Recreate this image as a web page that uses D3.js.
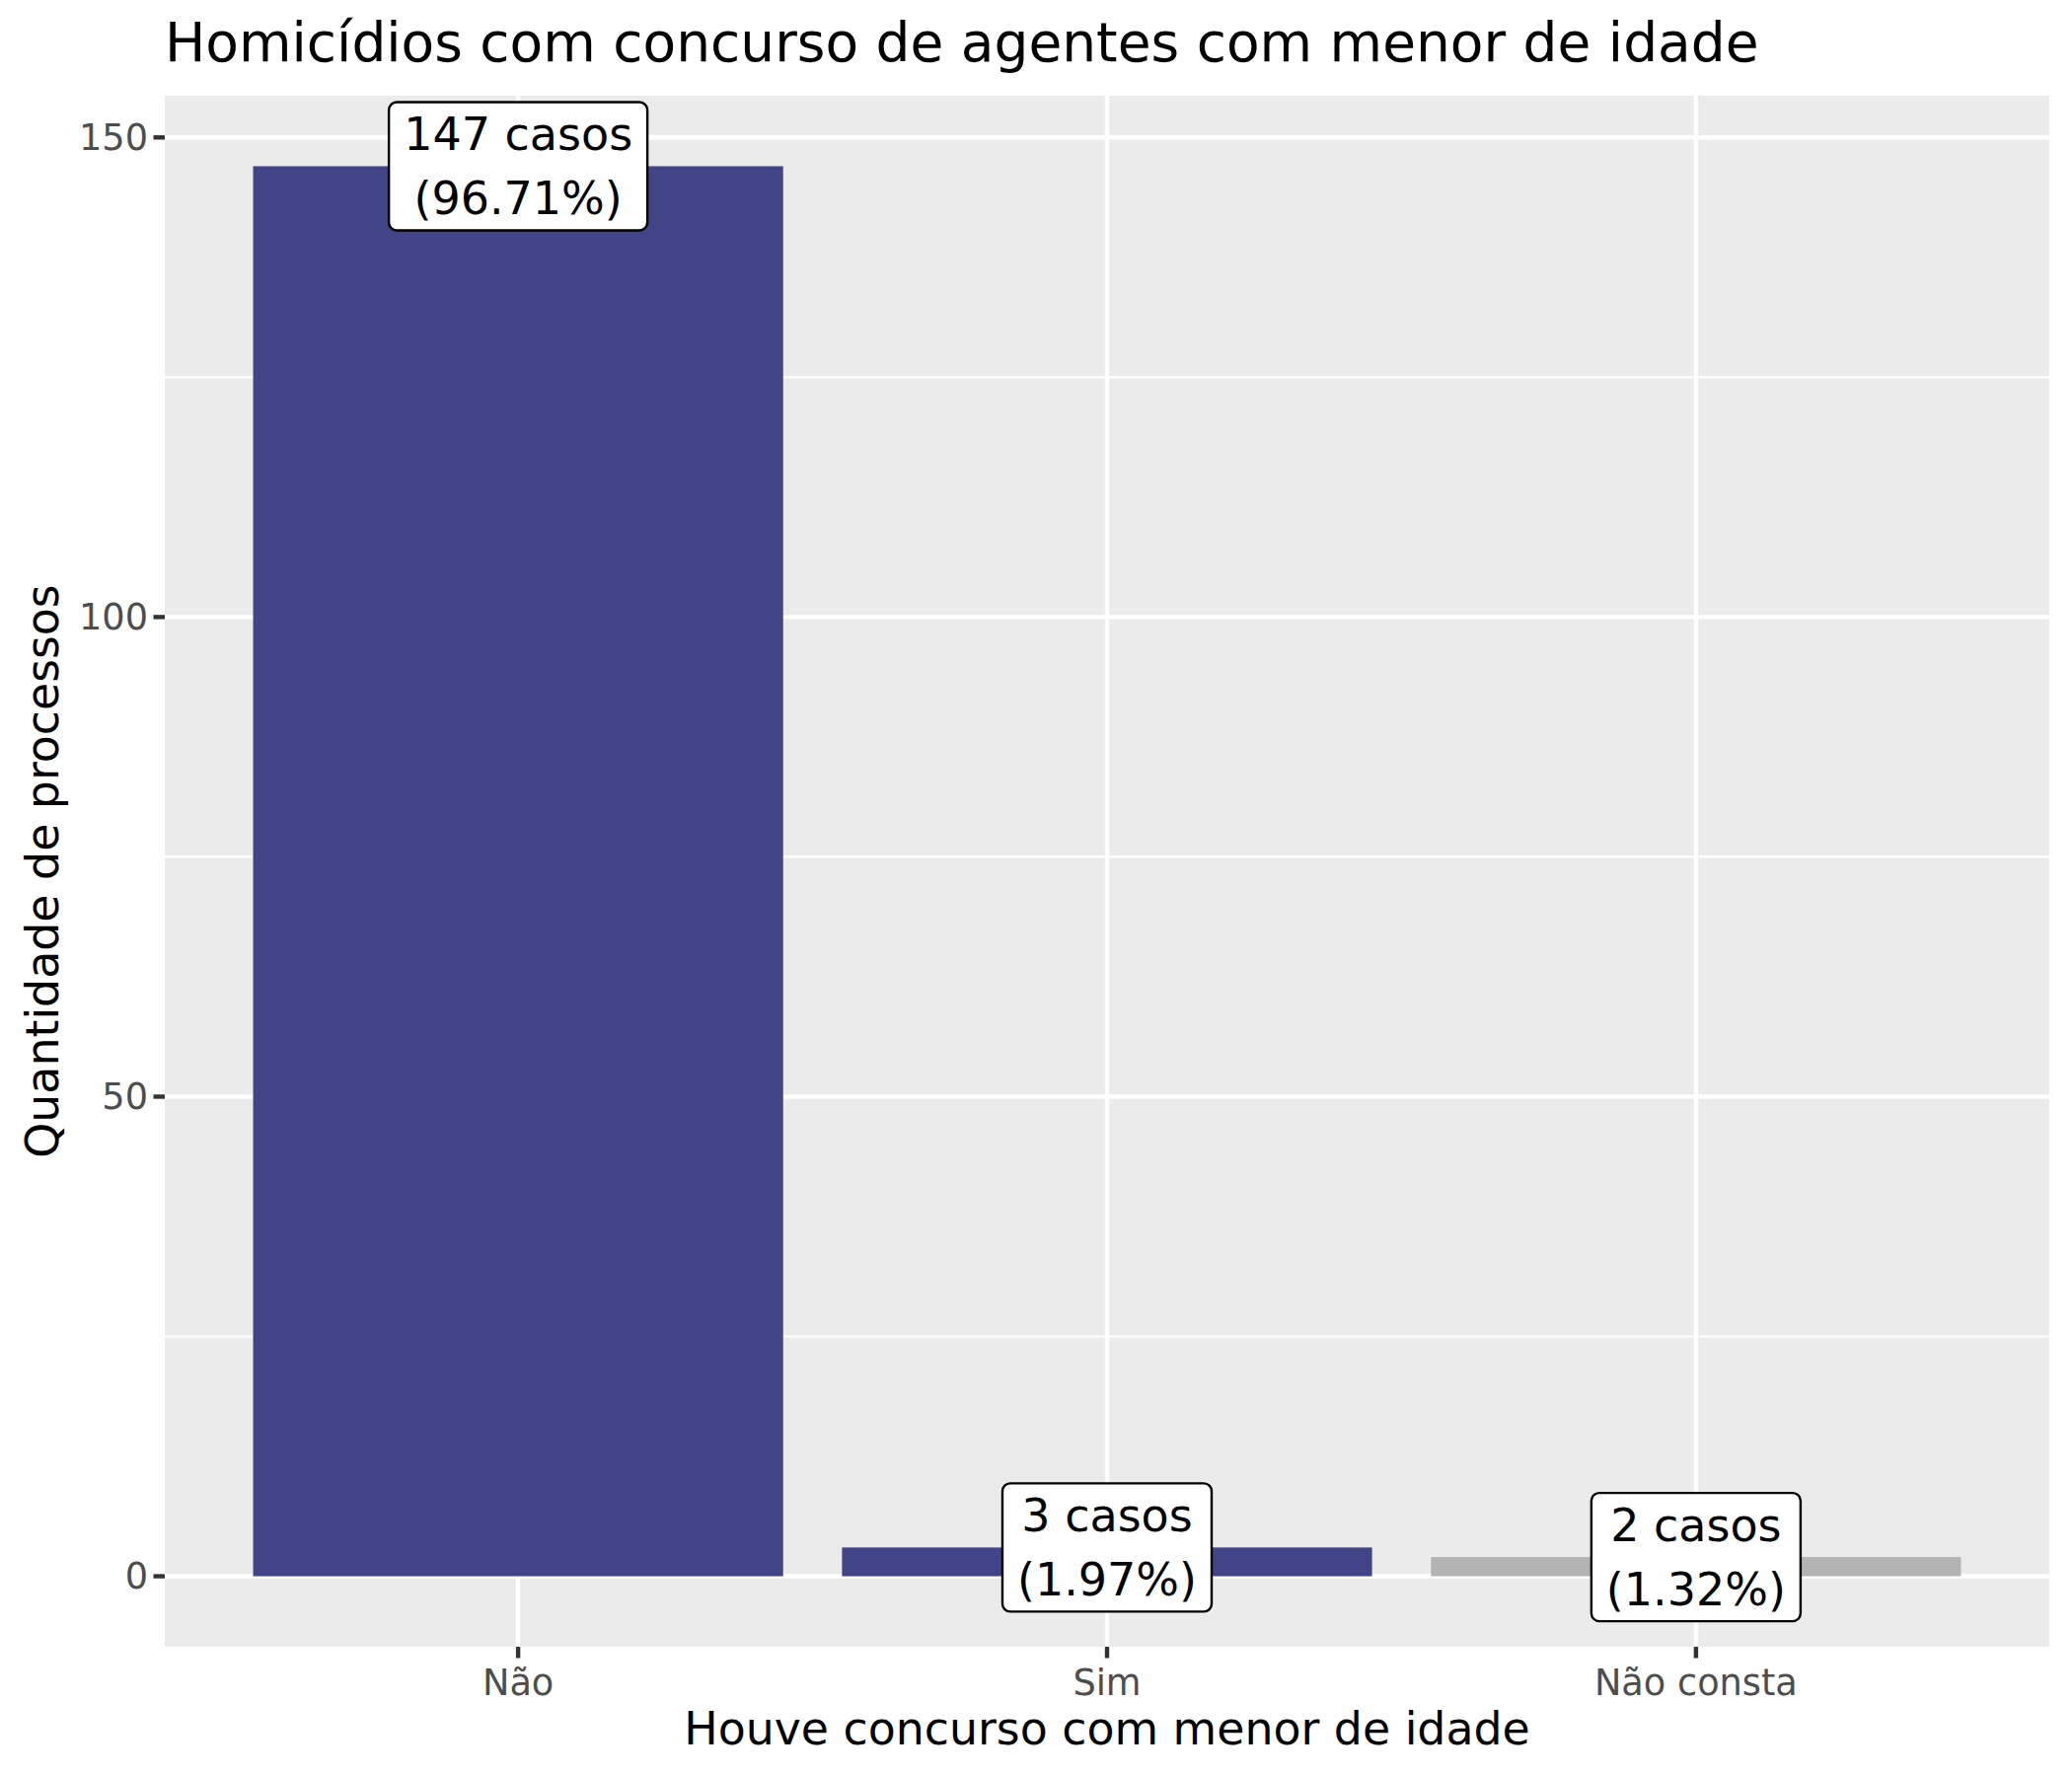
<!DOCTYPE html>
<html><head><meta charset="utf-8">
<script src="https://cdn.jsdelivr.net/npm/d3@7"></script>
<style>body{margin:0;background:#fff}text{font-family:"DejaVu Sans",sans-serif}</style>
</head><body>
<svg id="c" width="2100" height="1800"></svg>
<script>
const categories = ["Não", "Sim", "Não consta"];
const values = [147, 3, 2];
const labelLine1 = ["147 casos", "3 casos", "2 casos"];
const labelLine2 = ["(96.71%)", "(1.97%)", "(1.32%)"];
const barColors = ["#414487", "#414487", "#B3B3B3"];
const yTicks = [0, 50, 100, 150];
const yMinor = [25, 75, 125];
const title = "Homicídios com concurso de agentes com menor de idade";
const xTitle = "Houve concurso com menor de idade";
const yTitle = "Quantidade de processos";

const svg = d3.select("#c");
const P = {l: 167, r: 2077, t: 97, b: 1669};

const x = d3.scaleLinear().domain([0.4, 3.6]).range([P.l, P.r]);
const y = d3.scaleLinear().domain([-7.35, 154.35]).range([P.b, P.t]);

svg.append("rect").attr("x", P.l).attr("y", P.t).attr("width", P.r - P.l).attr("height", P.b - P.t).attr("fill", "#EBEBEB");

// minor grid
svg.selectAll(".ymin").data(yMinor).enter().append("line")
  .attr("x1", P.l).attr("x2", P.r).attr("y1", d => y(d)).attr("y2", d => y(d))
  .attr("stroke", "#fff").attr("stroke-width", 2.2);
// major grid
svg.selectAll(".ymaj").data(yTicks).enter().append("line")
  .attr("x1", P.l).attr("x2", P.r).attr("y1", d => y(d)).attr("y2", d => y(d))
  .attr("stroke", "#fff").attr("stroke-width", 4.4);
svg.selectAll(".xmaj").data(categories).enter().append("line")
  .attr("x1", (d, i) => x(i + 1)).attr("x2", (d, i) => x(i + 1)).attr("y1", P.t).attr("y2", P.b)
  .attr("stroke", "#fff").attr("stroke-width", 4.4);

// bars
svg.selectAll(".bar").data(values).enter().append("rect")
  .attr("x", (d, i) => x(i + 1 - 0.45))
  .attr("width", (d, i) => x(i + 1 + 0.45) - x(i + 1 - 0.45))
  .attr("y", d => y(d))
  .attr("height", d => y(0) - y(d))
  .attr("fill", (d, i) => barColors[i]);

// labels
const fs = 46, lh = 65, pad = 15, boxH = 130;
values.forEach((v, i) => {
  const g = svg.append("g");
  const cx = x(i + 1), cy = y(v);
  const rect = g.append("rect").attr("fill", "#fff").attr("stroke", "#000").attr("stroke-width", 2.4)
    .attr("rx", 8).attr("ry", 8);
  const t1 = g.append("text").attr("x", cx).attr("y", cy - lh / 2).attr("text-anchor", "middle")
    .attr("dominant-baseline", "central").attr("font-size", fs).attr("fill", "#000").text(labelLine1[i]);
  const t2 = g.append("text").attr("x", cx).attr("y", cy + lh / 2).attr("text-anchor", "middle")
    .attr("dominant-baseline", "central").attr("font-size", fs).attr("fill", "#000").text(labelLine2[i]);
  const w = Math.max(t1.node().getComputedTextLength(), t2.node().getComputedTextLength()) + 2 * pad;
  rect.attr("x", cx - w / 2).attr("y", cy - boxH / 2).attr("width", w).attr("height", boxH);
});

// y axis ticks
svg.selectAll(".yt").data(yTicks).enter().append("line")
  .attr("x1", P.l - 11.5).attr("x2", P.l).attr("y1", d => y(d)).attr("y2", d => y(d))
  .attr("stroke", "#333").attr("stroke-width", 4.4);
svg.selectAll(".yl").data(yTicks).enter().append("text")
  .attr("x", P.l - 17).attr("y", d => y(d)).attr("dy", "0.35em").attr("text-anchor", "end")
  .attr("font-size", 36.7).attr("fill", "#4D4D4D").text(d => d);

// x axis ticks
svg.selectAll(".xt").data(categories).enter().append("line")
  .attr("x1", (d, i) => x(i + 1)).attr("x2", (d, i) => x(i + 1)).attr("y1", P.b).attr("y2", P.b + 11.5)
  .attr("stroke", "#333").attr("stroke-width", 4.4);
svg.selectAll(".xl").data(categories).enter().append("text")
  .attr("x", (d, i) => x(i + 1)).attr("y", P.b + 49).attr("text-anchor", "middle")
  .attr("font-size", 36.7).attr("fill", "#4D4D4D").text(d => d);

// titles
svg.append("text").attr("x", (P.l + P.r) / 2).attr("y", 1768).attr("text-anchor", "middle")
  .attr("font-size", 45.8).attr("fill", "#000").text(xTitle);
svg.append("text").attr("transform", `translate(59,${(P.t + P.b) / 2}) rotate(-90)`).attr("text-anchor", "middle")
  .attr("font-size", 45.8).attr("fill", "#000").text(yTitle);
svg.append("text").attr("x", P.l).attr("y", 62).attr("font-size", 55).attr("fill", "#000").text(title);
</script>
</body></html>
